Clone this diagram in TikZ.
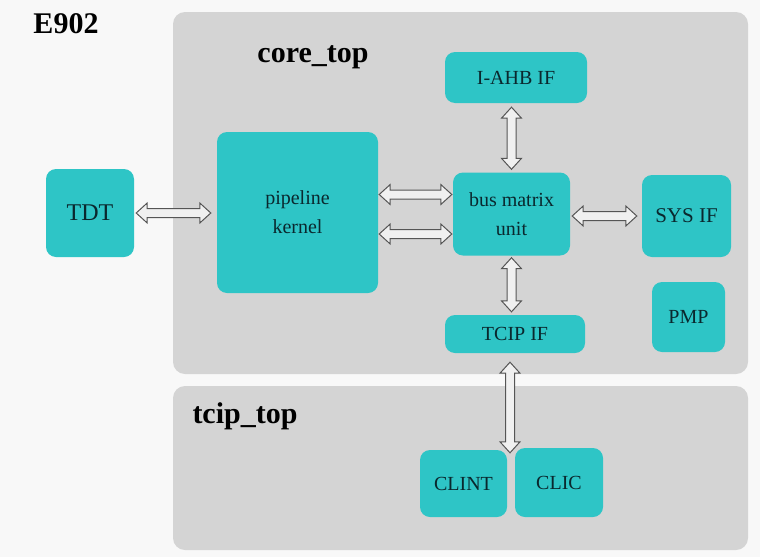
\documentclass[tikz,border=0pt]{standalone}
\usepackage{fontspec}
\setmainfont{Liberation Serif}
\usetikzlibrary{calc}
\definecolor{teal1}{RGB}{46,197,198}
\definecolor{panel}{RGB}{212,212,212}
\definecolor{bgc}{RGB}{248,248,248}
\definecolor{txt}{RGB}{10,40,46}
\definecolor{arrline}{RGB}{85,85,85}
\definecolor{arrfill}{RGB}{240,240,240}
\tikzset{
  panelbox/.style={fill=panel, rounded corners=12pt, inner sep=0pt},
  blockbox/.style={fill=teal1, rounded corners=10pt, inner sep=0pt, text=txt, align=center, font=\fontsize{20}{29}\selectfont},
  title/.style={font=\bfseries\fontsize{30}{32}\selectfont, text=black, inner sep=0pt},
  blk/.style={draw=arrline, fill=arrfill, line width=1pt, line join=miter},
}
\newcommand\harr[2]{\draw[blk] let \p1=#1, \p2=#2 in
  (\x1,\y1) -- (\x1+11pt,\y1+10pt) -- (\x1+11pt,\y1+4.5pt) -- (\x2-11pt,\y1+4.5pt) -- (\x2-11pt,\y1+10pt) -- (\x2,\y1)
  -- (\x2-11pt,\y1-10pt) -- (\x2-11pt,\y1-4.5pt) -- (\x1+11pt,\y1-4.5pt) -- (\x1+11pt,\y1-10pt) -- cycle;}
\newcommand\varr[2]{\draw[blk] let \p1=#1, \p2=#2 in
  (\x1,\y1) -- (\x1+10pt,\y1-11pt) -- (\x1+4.5pt,\y1-11pt) -- (\x1+4.5pt,\y2+11pt) -- (\x1+10pt,\y2+11pt) -- (\x1,\y2)
  -- (\x1-10pt,\y2+11pt) -- (\x1-4.5pt,\y2+11pt) -- (\x1-4.5pt,\y1-11pt) -- (\x1-10pt,\y1-11pt) -- cycle;}
\begin{document}
\begin{tikzpicture}[x=1pt,y=-1pt]
\fill[bgc] (0,0) rectangle (760,557);
\useasboundingbox (0,0) rectangle (760,557);
% panels
\node[panelbox, minimum width=575pt, minimum height=362pt] (core) at (460.5,193) {};
\node[panelbox, minimum width=575pt, minimum height=164pt] (tcip) at (460.5,468) {};
% titles
\node[title] (e902) at (66,24) {E902};
\node[title] (coret) at (313,57) {core\_top};
\node[title] (tcipt) at (245,416) {tcip\_top};
% blocks
\node[blockbox, minimum width=88pt, minimum height=88pt, font=\fontsize{24}{28}\selectfont] (tdt) at (90,213) {TDT};
\node[blockbox, minimum width=161pt, minimum height=161pt] (pipe) at (297.5,212.5) {pipeline\\kernel};
\node[blockbox, minimum width=142pt, minimum height=51pt] (iahb) at (516,77.5) {I-AHB IF};
\node[blockbox, minimum width=117pt, minimum height=83pt] (bus) at (511.5,214) {bus matrix\\unit};
\node[blockbox, minimum width=89pt, minimum height=82pt, font=\fontsize{21}{28}\selectfont] (sys) at (686.5,216) {SYS IF};
\node[blockbox, minimum width=73pt, minimum height=70pt] (pmp) at (688.5,317) {PMP};
\node[blockbox, minimum width=140pt, minimum height=38pt] (tcipif) at (515,334) {TCIP IF};
\node[blockbox, minimum width=87pt, minimum height=67pt] (clint) at (463.5,483.5) {CLINT};
\node[blockbox, minimum width=88pt, minimum height=69pt] (clic) at (559,482.5) {CLIC};
% connector coordinates
\coordinate (p1) at ([yshift=18pt]pipe.east);
\coordinate (p2) at ([yshift=-21.5pt]pipe.east);
\coordinate (cc) at ($(clint.north east)!0.5!(clic.north west)$);
% arrows
\harr{($(tdt.east)+(2,0)$)}{($(pipe.west |- tdt.east)+(-6,0)$)}
\harr{($(p1)+(1,0)$)}{($(bus.west |- p1)+(-1,0)$)}
\harr{($(p2)+(1,0)$)}{($(bus.west |- p2)+(-1,0)$)}
\harr{($(bus.east |- sys.west)+(2,0)$)}{($(sys.west)+(-5,0)$)}
\varr{($(bus.north |- iahb.south)+(0,4)$)}{($(bus.north)+(0,-3)$)}
\varr{($(bus.south)+(0,2)$)}{($(bus.south |- tcipif.north)+(0,-3)$)}
\varr{($(cc |- tcipif.south)+(-1,9)$)}{($(cc)+(-1,4)$)}
\end{tikzpicture}
\end{document}
